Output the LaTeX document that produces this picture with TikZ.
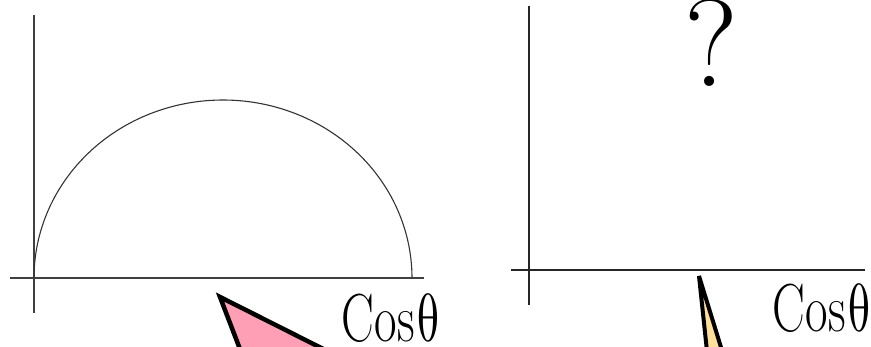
\RequirePackage{fix-cm}
\documentclass[tikz,border=0pt]{standalone}
\usepackage{fontspec}
\newfontfamily\lmmath{Latin Modern Math}
\begin{document}
\begin{tikzpicture}[x=1pt,y=-1pt,
  axis/.style={draw=black!75, line width=1.6pt},
  curve/.style={draw=black!80, line width=1.1pt},
  lbl/.style={anchor=base, inner sep=0pt, xscale=0.72, font=\fontsize{68}{68}\selectfont},
  pointer/.style={draw=black, line width=4.5pt, line join=miter}]
\useasboundingbox (0,0) rectangle (871,347);
\begin{scope}
\clip (0,0) rectangle (871,347);
% left plot
\draw[axis, line width=1.3pt] (34,15) -- (34,313);
\draw[axis, line width=2pt] (10,278) -- (424,278);
\draw[curve] plot[domain=180:360, samples=120] ({223+189*cos(\x)}, {278+178*sin(\x)});
\draw[pointer, fill={rgb,255:red,255;green,159;blue,181}] (220,297) -- (248,370) -- (365,370) -- cycle;
% right plot
\draw[axis, draw=black!85, line width=2pt] (529,6) -- (529,305);
\draw[axis, draw=black!85, line width=2pt] (511,270) -- (865,270);
\draw[pointer, line width=4pt, fill={rgb,255:red,255;green,223;blue,154}] (699,276) -- (709,370) -- (728,370) -- cycle;
\end{scope}
\node[lbl] (cosL) at (391,342) {Cos\hspace{2pt}{\lmmath θ}};
\node[anchor=base, inner sep=0pt, font=\fontsize{124}{124}\selectfont] (q) at (711,87) {?};
\node[lbl] (cosR) at (822,332) {Cos\hspace{2pt}{\lmmath θ}};
\end{tikzpicture}
\end{document}
